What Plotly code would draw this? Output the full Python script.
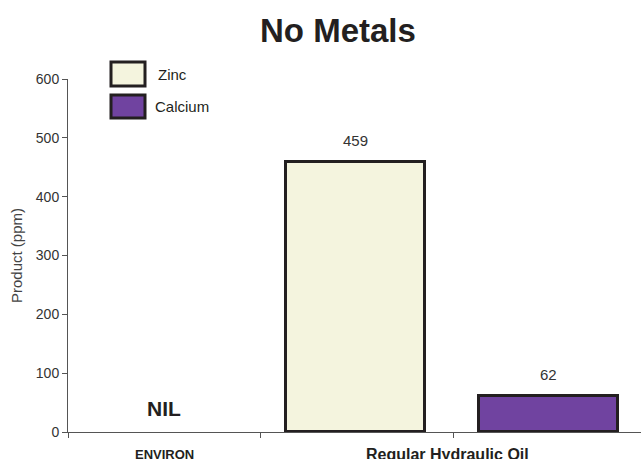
import plotly.graph_objects as go

# ---- data ----
products = ["ENVIRON", "Regular Hydraulic Oil"]
metals = ["Zinc", "Calcium"]
zinc_ppm = [None, 459]
calcium_ppm = [None, 62]
y_ticks = [0, 100, 200, 300, 400, 500, 600]
title_text = "No Metals"
y_title = "Product (ppm)"
nil_text = "NIL"

# ---- figure geometry ----
W, H = 641, 459
L, R, T, B = 68, 0, 79, 27
PW, PH = W - L - R, H - T - B
X_MAX = 2.97  # visible span of the category slots


def px_x(px):
    return (px - L) / PW


def px_y(py):
    return (H - B - py) / PH


FONT = "Liberation Sans, Arial, sans-serif"
EDGE = "#231F20"
colors = {"Zinc": "#F4F4DE", "Calcium": "#7043A0"}

# slot layout: ENVIRON in slot 0, Regular Hydraulic Oil spans slots 1-2
slot_of = {("Regular Hydraulic Oil", "Zinc"): 1, ("Regular Hydraulic Oil", "Calcium"): 2,
           ("ENVIRON", "Zinc"): 0, ("ENVIRON", "Calcium"): 0}
label_center = {"ENVIRON": 0.5, "Regular Hydraulic Oil": 2.0}

fig = go.Figure()
series = {"Zinc": zinc_ppm, "Calcium": calcium_ppm}
for m in metals:
    xs, ys = [], []
    for p, v in zip(products, series[m]):
        if v is None:
            continue
        xs.append(slot_of[(p, m)] + 0.49)
        ys.append(v)
    fig.add_trace(go.Bar(
        x=xs, y=ys, name=m, width=0.72,
        marker=dict(color=colors[m], line=dict(color=EDGE, width=3)),
        showlegend=False, hoverinfo="x+y",
    ))
    for x, v in zip(xs, ys):
        fig.add_annotation(x=x, y=v, xref="x", yref="y", text=str(v),
                           showarrow=False, yanchor="bottom", yshift=11,
                           font=dict(family=FONT, size=15, color="#333333"))

# NIL marker for ENVIRON
fig.add_annotation(x=label_center["ENVIRON"], y=px_y(408), xref="x", yref="paper",
                   text=f"<b>{nil_text}</b>", showarrow=False, yanchor="middle",
                   font=dict(family=FONT, size=21, color="#231F20"))

# category labels
fig.add_annotation(x=label_center["ENVIRON"], y=0, xref="x", yref="paper",
                   text=f"<b>{products[0]}</b>", showarrow=False, yanchor="top",
                   yshift=-13, font=dict(family=FONT, size=13, color="#231F20"))
fig.add_annotation(x=label_center["Regular Hydraulic Oil"], y=0, xref="x", yref="paper",
                   text=f"<b>{products[1]}</b>", showarrow=False, yanchor="top",
                   yshift=-12, xshift=-6, font=dict(family=FONT, size=16, color="#231F20"))

# title
fig.add_annotation(x=px_x(338), y=px_y(30), xref="paper", yref="paper",
                   text=f"<b>{title_text}</b>", showarrow=False, yanchor="middle",
                   font=dict(family=FONT, size=33, color="#231F20"))

# custom legend (large swatches)
legend_rows = [("Zinc", 62, 86, 156), ("Calcium", 95, 118, 153)]
for name, y0, y1, tx in legend_rows:
    fig.add_shape(type="rect", xref="paper", yref="paper",
                  x0=px_x(111), x1=px_x(145), y0=px_y(y1), y1=px_y(y0),
                  fillcolor=colors[name], line=dict(color=EDGE, width=3))
    fig.add_annotation(x=px_x(tx), y=px_y((y0 + y1) / 2), xref="paper", yref="paper",
                       text=name, showarrow=False, xanchor="left", yanchor="middle",
                       font=dict(family=FONT, size=15, color="#231F20"))

fig.update_layout(
    width=W, height=H,
    margin=dict(l=L, r=R, t=T, b=B, pad=0),
    paper_bgcolor="white", plot_bgcolor="white",
    showlegend=False,
    bargap=0,
)
fig.update_xaxes(
    range=[0, X_MAX], showgrid=False, zeroline=False,
    showline=True, linecolor="#555555", linewidth=1,
    showticklabels=False, ticks="",
    tickvals=[0, 1, 2],
    minor=dict(tickvals=[0, 1, 2], ticks="outside", ticklen=5,
               tickcolor="#555555", tickwidth=1, showgrid=False),
    fixedrange=True,
)
fig.update_yaxes(
    range=[0, 600], tickvals=y_ticks, showgrid=False, zeroline=False,
    showline=True, linecolor="#555555", linewidth=1,
    ticks="outside", ticklen=5, tickcolor="#555555",
    tickfont=dict(family=FONT, size=14, color="#333333"),
    title=dict(text=y_title, standoff=9,
               font=dict(family=FONT, size=15, color="#444444")),
    automargin=False, fixedrange=True,
)

fig.write_html("out.html")
